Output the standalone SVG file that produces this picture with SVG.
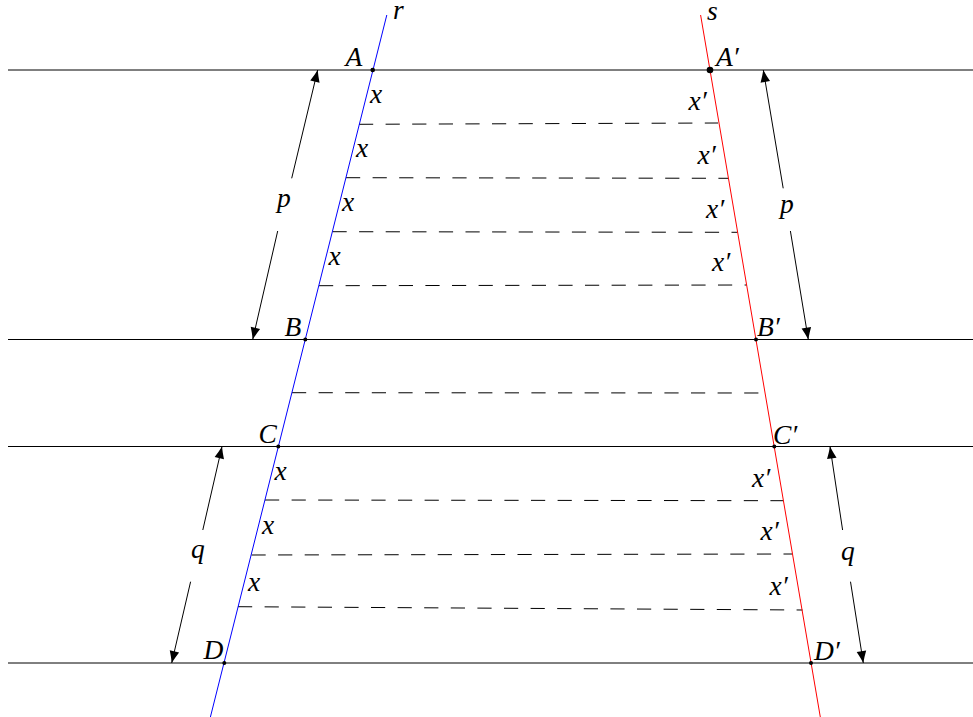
<svg xmlns="http://www.w3.org/2000/svg" width="973" height="717" viewBox="0 0 973 717">
<style>
.h{stroke:#000;stroke-width:1;fill:none}
.d{stroke:#000;stroke-width:1;fill:none;stroke-dasharray:14.2 12.4}
.a{stroke:#000;stroke-width:1;fill:none;marker-end:url(#ah)}
.t{font-family:"Liberation Serif","DejaVu Serif",serif;font-style:italic;font-size:27.5px;fill:#000}
.pt{fill:#000}
</style>
<defs>
<marker id="ah" markerUnits="userSpaceOnUse" viewBox="-1 -6 14 12" refX="12" refY="0" markerWidth="14" markerHeight="12" orient="auto">
<path d="M0,-4.8 Q6,-2 12,0 Q6,2 0,4.8 Z" fill="#000"/>
</marker>
</defs>
<rect width="973" height="717" fill="#fff"/>
<g id="parallels">
<line class="h" x1="8" y1="70" x2="973" y2="70"/>
<line class="h" x1="8" y1="339.5" x2="973" y2="339.5"/>
<line class="h" x1="8" y1="446.5" x2="973" y2="446.5"/>
<line class="h" x1="8" y1="663" x2="973" y2="663"/>
</g>
<g id="connectors">
<line class="d" x1="359" y1="124.3" x2="718" y2="123"/>
<line class="d" x1="346" y1="177.7" x2="728" y2="178.3"/>
<line class="d" x1="332.5" y1="231.7" x2="737.5" y2="232.3"/>
<line class="d" x1="319" y1="285.7" x2="746.7" y2="285"/>
<line class="d" x1="292" y1="392.7" x2="765" y2="393"/>
<line class="d" x1="265" y1="500" x2="783.3" y2="500.7"/>
<line class="d" x1="251.5" y1="555" x2="792.3" y2="554"/>
<line class="d" x1="238" y1="606.7" x2="802.5" y2="610"/>
<line class="a" x1="291.7" y1="178.3" x2="317.7" y2="70"/>
<line class="a" x1="277.7" y1="231" x2="252.7" y2="339.5"/>
<line class="a" x1="783.2" y1="188.3" x2="763.3" y2="70"/>
<line class="a" x1="790.4" y1="231" x2="808.3" y2="339.5"/>
<line class="a" x1="202.8" y1="530" x2="222" y2="446.5"/>
<line class="a" x1="190.6" y1="581.7" x2="171.7" y2="663"/>
<line class="a" x1="842.6" y1="530" x2="830" y2="446.5"/>
<line class="a" x1="850.5" y1="581.7" x2="863.3" y2="663"/>
</g>
<g id="line-r">
<line x1="386.8" y1="15" x2="210.4" y2="717" stroke="#0000ff" stroke-width="1"/>
<text class="t" x="393" y="19">r</text>
</g>
<g id="line-s">
<line x1="700.6" y1="15" x2="820.3" y2="717" stroke="#ff0000" stroke-width="1"/>
<text class="t" x="707" y="20">s</text>
</g>
<g id="A"><circle class="pt" cx="372.7" cy="70" r="2.3"/><text class="t" x="345.5" y="66">A</text></g>
<g id="B"><circle class="pt" cx="305.3" cy="339.5" r="2"/><text class="t" x="284.5" y="336">B</text></g>
<g id="C"><circle class="pt" cx="278.3" cy="446.5" r="2"/><text class="t" x="258.5" y="443">C</text></g>
<g id="D"><circle class="pt" cx="224.3" cy="663" r="2"/><text class="t" x="203.5" y="659">D</text></g>
<g id="A1"><circle class="pt" cx="710" cy="70" r="3.3"/><text class="t" x="716" y="66">A′</text></g>
<g id="B1"><circle class="pt" cx="756" cy="339.5" r="2"/><text class="t" x="757" y="336">B′</text></g>
<g id="C1"><circle class="pt" cx="774.3" cy="446.5" r="2"/><text class="t" x="773" y="444">C′</text></g>
<g id="D1"><circle class="pt" cx="811" cy="663" r="2"/><text class="t" x="814" y="660">D′</text></g>
<g id="labels-x">
<text class="t" x="370" y="103">x</text>
<text class="t" x="356" y="157">x</text>
<text class="t" x="342" y="211">x</text>
<text class="t" x="328.5" y="265">x</text>
<text class="t" x="274.5" y="480">x</text>
<text class="t" x="262" y="534">x</text>
<text class="t" x="248" y="590.5">x</text>
</g>
<g id="labels-x1">
<text class="t" x="688.5" y="110">x′</text>
<text class="t" x="697.5" y="164">x′</text>
<text class="t" x="706" y="218">x′</text>
<text class="t" x="712" y="271">x′</text>
<text class="t" x="752" y="487">x′</text>
<text class="t" x="760.5" y="540">x′</text>
<text class="t" x="769.5" y="595">x′</text>
</g>
<g id="labels-pq">
<text class="t" x="277" y="207">p</text>
<text class="t" x="780" y="213">p</text>
<text class="t" x="191" y="558">q</text>
<text class="t" x="841" y="560">q</text>
</g>
</svg>
